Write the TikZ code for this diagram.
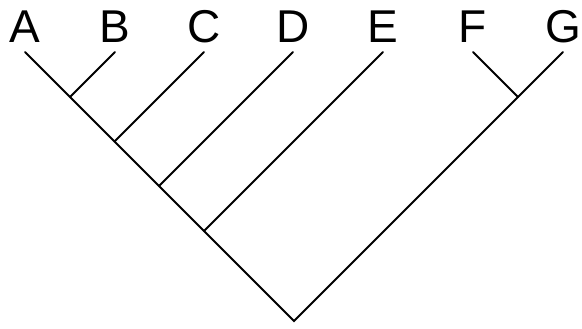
\documentclass[tikz,border=0pt]{standalone}
\usepackage{fontspec}
\setmainfont{Liberation Sans}
\begin{document}
\begin{tikzpicture}[x=1pt,y=-1pt,
  lbl/.style={anchor=base,inner sep=0pt,font=\fontsize{46}{50}\selectfont},
  branch/.style={line width=2pt,line cap=round}]
\useasboundingbox (0,0) rectangle (582,329);
\node[lbl] (A) at (25,42.5) {A};
\node[lbl] (B) at (115,42.5) {B};
\node[lbl] (C) at (204,42.5) {C};
\node[lbl] (D) at (293,42.5) {D};
\node[lbl] (E) at (383,42.5) {E};
\node[lbl] (F) at (473,42.5) {F};
\node[lbl] (G) at (563,42.5) {G};
\coordinate (a) at (25,52);
\coordinate (b) at (115,52);
\coordinate (c) at (204,52);
\coordinate (d) at (293,52);
\coordinate (e) at (383,52);
\coordinate (f) at (473,52);
\coordinate (g) at (563,52);
\coordinate (root) at (294,321);
\coordinate (jb) at (70,97);
\coordinate (jc) at (114.5,141.5);
\coordinate (jd) at (159,186);
\coordinate (je) at (204,231);
\coordinate (jf) at (518,97);
\draw[branch] (a) -- (root) -- (g);
\draw[branch] (b) -- (jb);
\draw[branch] (c) -- (jc);
\draw[branch] (d) -- (jd);
\draw[branch] (e) -- (je);
\draw[branch] (f) -- (jf);
\end{tikzpicture}
\end{document}
